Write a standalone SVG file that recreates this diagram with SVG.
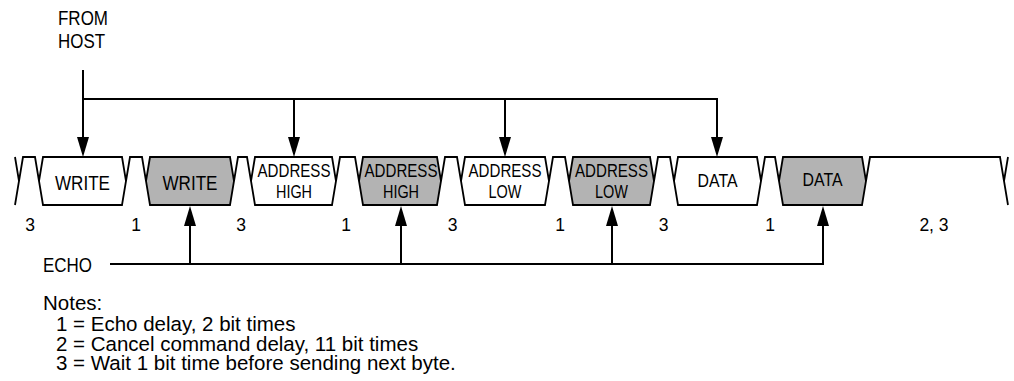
<svg xmlns="http://www.w3.org/2000/svg" width="1014" height="381" viewBox="0 0 1014 381">
<style>
text{font-family:"Liberation Sans",Arial,sans-serif;fill:#000}
.lb{font-size:18px}
.big{font-size:20px}
.md{font-size:17.5px}
.dg{font-size:17.5px;text-anchor:middle}
.note{font-size:20.5px}
.c{text-anchor:middle}
.wave{fill:none;stroke:#000;stroke-width:1.8;stroke-linejoin:miter}
.box{fill:#fff;stroke:#000;stroke-width:1.8}
.echo{fill:#b3b3b3;stroke:#000;stroke-width:1.8}
.conn{fill:none;stroke:#000;stroke-width:2}
</style>
<defs>
<marker id="ah" viewBox="0 0 20 12" refX="17" refY="6" markerWidth="20" markerHeight="12" orient="auto" markerUnits="userSpaceOnUse"><path d="M0,0 L20,6 L0,12 z" fill="#000"/></marker>
</defs>
<g id="idle">
<path class="wave" d="M15,157 L19,181 L15,205"/>
<path class="wave" d="M19,181 L23,157 L35,157 L39,181"/>
<path class="wave" d="M126,181 L130,157 L142,157 L146,181"/>
<path class="wave" d="M234,181 L238,157 L247,157 L251,181"/>
<path class="wave" d="M336,181 L340,157 L355,157 L359,181"/>
<path class="wave" d="M441,181 L445,157 L457,157 L461,181"/>
<path class="wave" d="M549,181 L553,157 L565,157 L569,181"/>
<path class="wave" d="M654,181 L658,157 L670,157 L674,181"/>
<path class="wave" d="M761,181 L765,157 L775,157 L779,181"/>
<path class="wave" d="M866,181 L870,157 L1000,157 L1004,181"/>
<path class="wave" d="M1008,157 L1004,181 L1008,205"/>
</g>
<g id="host-write">
<polygon class="box" points="39,181 43,157 122,157 126,181 122,205 43,205"/>
<text class="big c" x="82.5" y="189.5" textLength="55" lengthAdjust="spacingAndGlyphs">WRITE</text>
</g>
<g id="echo-write">
<polygon class="echo" points="146,181 150,157 230,157 234,181 230,205 150,205"/>
<text class="big c" x="190" y="189.5" textLength="55" lengthAdjust="spacingAndGlyphs">WRITE</text>
</g>
<g id="host-address-high">
<polygon class="box" points="251,181 255,157 332,157 336,181 332,205 255,205"/>
<text class="md c" x="294" y="177" textLength="73" lengthAdjust="spacingAndGlyphs">ADDRESS</text>
<text class="md c" x="294" y="198" textLength="36" lengthAdjust="spacingAndGlyphs">HIGH</text>
</g>
<g id="echo-address-high">
<polygon class="echo" points="359,181 363,157 437,157 441,181 437,205 363,205"/>
<text class="md c" x="401" y="177" textLength="73" lengthAdjust="spacingAndGlyphs">ADDRESS</text>
<text class="md c" x="401" y="198" textLength="36" lengthAdjust="spacingAndGlyphs">HIGH</text>
</g>
<g id="host-address-low">
<polygon class="box" points="461,181 465,157 545,157 549,181 545,205 465,205"/>
<text class="md c" x="505" y="177" textLength="73" lengthAdjust="spacingAndGlyphs">ADDRESS</text>
<text class="md c" x="505" y="198" textLength="33" lengthAdjust="spacingAndGlyphs">LOW</text>
</g>
<g id="echo-address-low">
<polygon class="echo" points="569,181 573,157 650,157 654,181 650,205 573,205"/>
<text class="md c" x="611.5" y="177" textLength="73" lengthAdjust="spacingAndGlyphs">ADDRESS</text>
<text class="md c" x="611.5" y="198" textLength="33" lengthAdjust="spacingAndGlyphs">LOW</text>
</g>
<g id="host-data">
<polygon class="box" points="674,181 678,157 757,157 761,181 757,205 678,205"/>
<text class="md c" x="717.5" y="187" textLength="40" lengthAdjust="spacingAndGlyphs">DATA</text>
</g>
<g id="echo-data">
<polygon class="echo" points="779,181 783,157 862,157 866,181 862,205 783,205"/>
<text class="md c" x="822.5" y="186" textLength="40" lengthAdjust="spacingAndGlyphs">DATA</text>
</g>
<g id="timing-labels">
<text class="dg" x="30" y="231">3</text>
<text class="dg" x="136" y="231">1</text>
<text class="dg" x="241" y="231">3</text>
<text class="dg" x="346" y="231">1</text>
<text class="dg" x="452.5" y="231">3</text>
<text class="dg" x="560" y="231">1</text>
<text class="dg" x="663.5" y="231">3</text>
<text class="dg" x="770" y="231">1</text>
<text class="dg" x="934" y="231">2, 3</text>
</g>
<g id="from-host">
<text class="big" x="58" y="25" textLength="50" lengthAdjust="spacingAndGlyphs">FROM</text>
<text class="big" x="58" y="48" textLength="47" lengthAdjust="spacingAndGlyphs">HOST</text>
</g>
<g id="echo-label">
<text class="big" x="43" y="271.5" textLength="49" lengthAdjust="spacingAndGlyphs">ECHO</text>
</g>
<g id="connectors">
<path class="conn" d="M83,70 L83,99 L717,99"/>
<path class="conn" marker-end="url(#ah)" d="M83,99 L83,154"/>
<path class="conn" marker-end="url(#ah)" d="M294,99 L294,154"/>
<path class="conn" marker-end="url(#ah)" d="M505,99 L505,154"/>
<path class="conn" marker-end="url(#ah)" d="M717,98 L717,154"/>
<path class="conn" d="M110,264 L824,264"/>
<path class="conn" marker-end="url(#ah)" d="M190,264 L190,209"/>
<path class="conn" marker-end="url(#ah)" d="M401,264 L401,209"/>
<path class="conn" marker-end="url(#ah)" d="M612,264 L612,209"/>
<path class="conn" marker-end="url(#ah)" d="M823,265 L823,209"/>
</g>
<g id="notes">
<text class="note" x="43" y="310">Notes:</text>
<text class="note" x="56" y="331">1 = Echo delay, 2 bit times</text>
<text class="note" x="56" y="351">2 = Cancel command delay, 11 bit times</text>
<text class="note" x="56" y="370">3 = Wait 1 bit time before sending next byte.</text>
</g>
</svg>
